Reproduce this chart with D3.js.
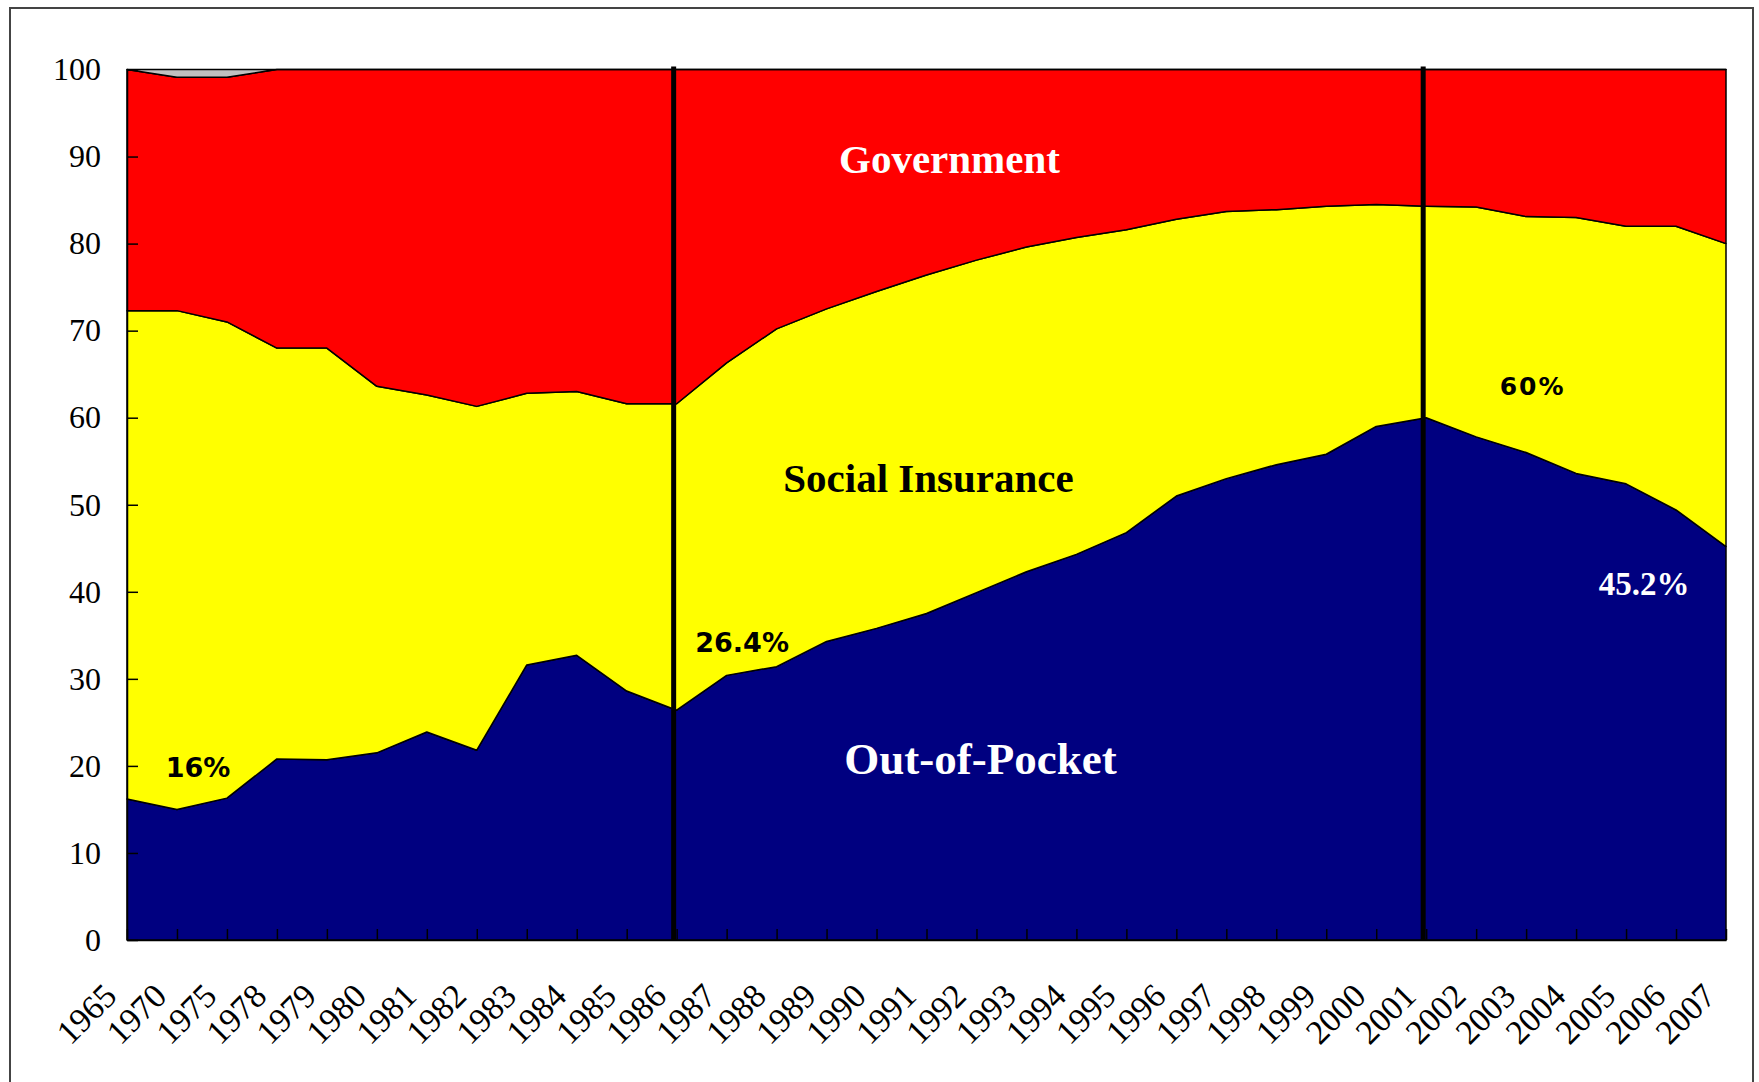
<!DOCTYPE html>
<meta charset="utf-8">
<title>Health spending by source</title>
<script src="https://d3js.org/d3.v7.min.js"></script>
<style>
  body { margin: 0; background: #fff; }
</style>
<div id="chart"></div>
<script>

    // categories (the x axis is a category axis, not a time axis)
    var years = ["1965","1970","1975","1978","1979","1980","1981","1982","1983","1984","1985",
                 "1986","1987","1988","1989","1990","1991","1992","1993","1994","1995","1996",
                 "1997","1998","1999","2000","2001","2002","2003","2004","2005","2006","2007"];

    // shares in percent
    var outOfPocket = [16.2, 15.0, 16.3, 20.8, 20.7, 21.5, 23.9, 21.8, 31.6, 32.7, 28.6,
                       26.4, 30.4, 31.4, 34.3, 35.8, 37.5, 39.9, 42.3, 44.3, 46.8, 51.0,
                       53.0, 54.6, 55.8, 59.0, 60.0, 57.8, 56.0, 53.6, 52.4, 49.4, 45.2];
    var socialInsurance = [56.1, 57.3, 54.7, 47.2, 47.3, 42.1, 38.7, 39.5, 31.2, 30.3, 33.0,
                           35.2, 35.9, 38.8, 38.2, 38.7, 38.9, 38.2, 37.3, 36.4, 34.8, 31.8,
                           30.7, 29.3, 28.5, 25.5, 24.3, 26.4, 27.1, 29.4, 29.6, 32.6, 34.8];
    var government = [27.7, 26.8, 28.1, 32.0, 32.0, 36.4, 37.4, 38.7, 37.2, 37.0, 38.4,
                      38.4, 33.7, 29.8, 27.5, 25.5, 23.6, 21.9, 20.4, 19.3, 18.4, 17.2,
                      16.3, 16.1, 15.7, 15.5, 15.7, 15.8, 16.9, 17.0, 18.0, 18.0, 20.0];
    var other = [0, 0.9, 0.9, 0, 0, 0, 0, 0, 0, 0, 0,
                 0, 0, 0, 0, 0, 0, 0, 0, 0, 0, 0,
                 0, 0, 0, 0, 0, 0, 0, 0, 0, 0, 0];

    var yTicks = [0, 10, 20, 30, 40, 50, 60, 70, 80, 90, 100];
    var markerYears = ["1986", "2001"];

    // text written on the chart: label, position on the category index, value
    var annText = ["Government", "Social Insurance", "Out-of-Pocket", "16%", "26.4%", "60%", "45.2%"];
    var annIdx  = [16.46, 16.04, 17.08, 1.42, 12.31, 28.13, 30.36];
    var annVal  = [88.1, 51.5, 19.1, 18.7, 33.1, 62.6, 39.6];

    var keys = ["oop", "si", "gov", "other"];
    var colors = {oop: "#000080", si: "#FFFF00", gov: "#FF0000", other: "#C0C0C0"};

    // dimensions
    var W = 1759, H = 1082;
    var margin = {top: 69.5, right: 33, bottom: 142, left: 127},
        width = W - margin.left - margin.right,
        height = H - margin.top - margin.bottom;

    var root = d3.select("#chart")
      .append("svg")
        .attr("width", W)
        .attr("height", H);

    // outer frame
    root.append("rect")
      .attr("x", 10).attr("y", 8)
      .attr("width", 1743).attr("height", 1100)
      .attr("fill", "none")
      .attr("stroke", "#444")
      .attr("stroke-width", 2);

    var svg = root.append("g")
      .attr("transform", "translate(" + margin.left + "," + margin.top + ")");

    var table = years.map(function(d, i) {
      return {year: d, oop: outOfPocket[i], si: socialInsurance[i], gov: government[i], other: other[i]};
    });

    var x = d3.scalePoint().domain(years).range([0, width]);
    var xi = d3.scaleLinear().domain([0, years.length - 1]).range([0, width]);
    var y = d3.scaleLinear().domain([0, 100]).range([height, 0]);

    var stacked = d3.stack().keys(keys)(table);

    var area = d3.area()
      .x(function(d) { return x(d.data.year); })
      .y0(function(d) { return y(d[0]); })
      .y1(function(d) { return y(d[1]); });

    svg.selectAll(".layer")
      .data(stacked)
      .enter()
      .append("path")
        .attr("class", "layer")
        .attr("d", area)
        .attr("fill", function(d) { return colors[d.key]; })
        .attr("stroke", "#000")
        .attr("stroke-width", 1.5)
        .attr("stroke-linejoin", "round");

    // y axis, ticks pointing into the plot
    var yAxis = svg.append("g")
      .call(d3.axisLeft(y).tickValues(yTicks).tickSizeInner(-11).tickSizeOuter(0).tickPadding(26));
    yAxis.select(".domain").attr("stroke", "#000").attr("stroke-width", 1.5);
    yAxis.selectAll(".tick line").attr("stroke", "#000").attr("stroke-width", 1.5);
    yAxis.selectAll("text")
      .attr("font-family", "Liberation Serif, serif")
      .attr("font-size", 32)
      .attr("fill", "#000");

    // x axis, labels slanted
    var xAxis = svg.append("g")
      .attr("transform", "translate(0," + height + ")")
      .call(d3.axisBottom(x).tickSizeInner(-11).tickSizeOuter(0));
    xAxis.select(".domain").attr("stroke", "#000").attr("stroke-width", 1.5);
    xAxis.selectAll(".tick line").attr("stroke", "#000").attr("stroke-width", 1.5);
    xAxis.selectAll("text")
      .attr("y", 0)
      .attr("dy", 0)
      .attr("text-anchor", "end")
      .attr("transform", "translate(-9,58) rotate(-45)")
      .attr("font-family", "Liberation Serif, serif")
      .attr("font-size", 34)
      .attr("fill", "#000");

    // thick marker lines
    svg.selectAll(".marker")
      .data(markerYears)
      .enter()
      .append("line")
        .attr("class", "marker")
        .attr("x1", function(d) { return x(d) - 3; })
        .attr("x2", function(d) { return x(d) - 3; })
        .attr("y1", -3)
        .attr("y2", height)
        .attr("stroke", "#000")
        .attr("stroke-width", 5);

    // labels
    var annFont = ["Liberation Serif, serif", "Liberation Serif, serif", "Liberation Serif, serif",
                   "DejaVu Sans, sans-serif", "DejaVu Sans, sans-serif", "DejaVu Sans, sans-serif",
                   "Liberation Serif, serif"];
    var annSize = [41, 41, 45, 27, 27, 25, 33];
    var annFill = ["#fff", "#000", "#fff", "#000", "#000", "#000", "#fff"];

    svg.selectAll(".ann")
      .data(annText)
      .enter()
      .append("text")
        .attr("class", "ann")
        .attr("x", function(d, i) { return xi(annIdx[i]); })
        .attr("y", function(d, i) { return y(annVal[i]); })
        .attr("text-anchor", "middle")
        .attr("font-weight", "bold")
        .attr("font-family", function(d, i) { return annFont[i]; })
        .attr("font-size", function(d, i) { return annSize[i]; })
        .attr("letter-spacing", function(d, i) { return d == "60%" ? 2 : 0; })
        .attr("fill", function(d, i) { return annFill[i]; })
        .text(function(d) { return d; });

</script>
